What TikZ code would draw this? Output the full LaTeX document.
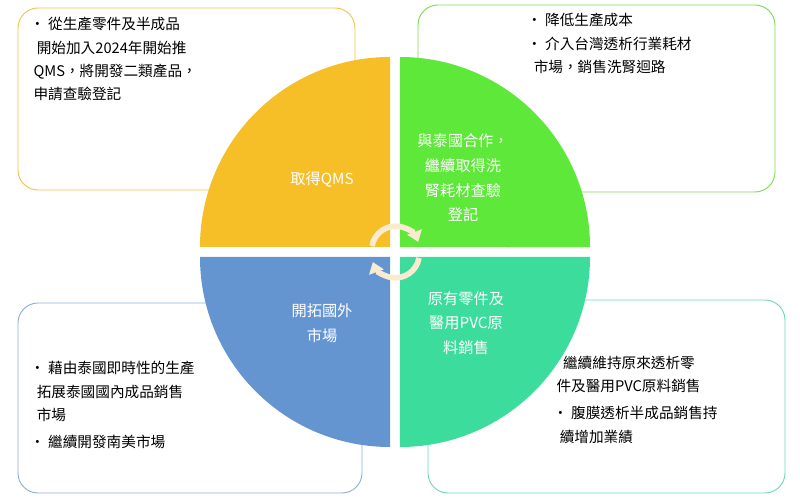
\documentclass[tikz,border=0pt]{standalone}
\usepackage{fontspec}
\setmainfont{Noto Sans CJK TC}
\usetikzlibrary{arrows.meta}
\definecolor{qyellow}{HTML}{F6BE27}
\definecolor{qgreen}{HTML}{5EE83A}
\definecolor{qblue}{HTML}{6495D0}
\definecolor{qteal}{HTML}{3CDC9C}
\definecolor{byellow}{HTML}{F6C24A}
\definecolor{bgreen}{HTML}{7ED957}
\definecolor{bblue}{HTML}{8AB0DC}
\definecolor{bteal}{HTML}{6BD9B0}
\definecolor{cream}{HTML}{F8EBD0}
\tikzset{
  infobox/.style={fill=white, rounded corners=0.6cm, line width=0.8pt},
  infotext/.style={anchor=north west, align=left, font=\fontsize{12.5}{20}\selectfont, inner sep=0pt},
  quadtext/.style={text=white, align=center, font=\fontsize{13}{21}\selectfont},
  turn/.style={cream, line width=0.17cm, -{Triangle[length=0.32cm,width=0.45cm]}}
}
\begin{document}
\begin{tikzpicture}[x=0.03cm,y=0.03cm]
  \useasboundingbox (0,0) rectangle (800,503);
  % Outer boxes
  \draw[infobox, draw=byellow] (18,313) rectangle (355,495);
  \draw[infobox, draw=bgreen] (418,311) rectangle (775,498);
  \draw[infobox, draw=bblue] (18,10) rectangle (362,200);
  \draw[infobox, draw=bteal] (428,10) rectangle (785,203);
  % Box texts
  \node[infotext] (tltext) at (30,486) {• 從生產零件及半成品\\ \ \ 開始加入2024年開始推\\ \ QMS，將開發二類產品，\\ \ 申請查驗登記};
  \node[infotext] (trtext) at (527,490) {• 降低生產成本\\• 介入台灣透析行業耗材\\ \ \ 市場，銷售洗腎迴路};
  \node[infotext] (bltext) at (30,142) {• 藉由泰國即時性的生產\\ \ \ 拓展泰國國內成品銷售\\ \ \ 市場\\[3pt]• 繼續開發南美市場};
  \node[infotext] (brtext) at (553,147) {\ \ \ 繼續維持原來透析零\\ \ 件及醫用PVC原料銷售\\[3pt]• 腹膜透析半成品銷售持\\ \ \ 續增加業績};
  % Quadrants
  \fill[qyellow] (390,256) -- (200,256) arc[start angle=180, end angle=90, radius=5.7cm] -- cycle;
  \fill[qgreen] (400,256) -- (400,446) arc[start angle=90, end angle=0, radius=5.7cm] -- cycle;
  \fill[qteal] (400,246) -- (590,246) arc[start angle=0, end angle=-90, radius=5.7cm] -- cycle;
  \fill[qblue] (390,246) -- (390,56) arc[start angle=270, end angle=180, radius=5.7cm] -- cycle;
  % Quadrant labels
  \node[quadtext] (qms) at (322,323) {取得QMS};
  \node[quadtext] (thai) at (463,325) {與泰國合作，\\繼續取得洗\\腎耗材查驗\\登記};
  \node[quadtext] (abroad) at (322,180) {開拓國外\\市場};
  \node[quadtext] (pvc) at (466,180) {原有零件及\\醫用PVC原\\料銷售};
  % Center arrows
  \draw[turn] (372,257) arc[start angle=170, end angle=20, radius=0.72cm];
  \draw[turn] (419,245) arc[start angle=-10, end angle=-160, radius=0.72cm];
\end{tikzpicture}
\end{document}
